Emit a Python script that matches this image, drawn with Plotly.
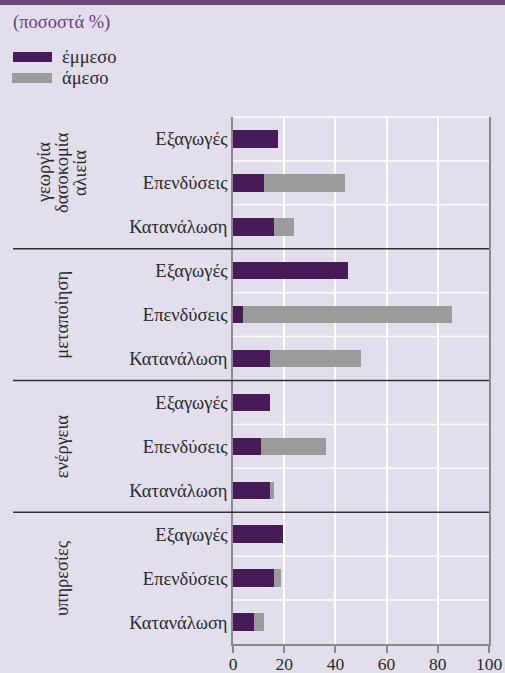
import plotly.graph_objects as go

# ---- data -------------------------------------------------------------
sectors = [["γεωργία", "δασοκομία", "αλιεία"], ["μεταποίηση"], ["ενέργεια"], ["υπηρεσίες"]]
measures = ["Εξαγωγές", "Επενδύσεις", "Κατανάλωση"]

# percentage per sector, in the order of `measures`
indirect = [
    [17.5, 12.0, 16.0],   # γεωργία / δασοκομία / αλιεία
    [45.0, 4.0, 14.3],    # μεταποίηση
    [14.6, 11.0, 14.3],   # ενέργεια
    [19.5, 16.0, 8.3],    # υπηρεσίες
]
direct = [
    [0.0, 31.7, 8.0],
    [0.0, 81.4, 35.7],
    [0.0, 25.2, 1.7],
    [0.0, 2.7, 3.9],
]
x_ticks = [0, 20, 40, 60, 80, 100]

# ---- styling ----------------------------------------------------------
W, H = 505, 673
M_L, M_R, M_T, M_B = 233, 16, 117, 29
BG = "#e2deec"
DARK = "#461b57"
GREY = "#9b9b9b"
BAND = "#684878"
TITLE_C = "#6a3f86"
TEXT_C = "#2a2a2a"
SERIF = "Liberation Serif"
TXT = 18.5      # Greek labels
NUM = 17.5      # axis numbers

PW = W - M_L - M_R
PH = H - M_T - M_B


def px_x(p):
    """pixel column -> paper x"""
    return (p - M_L) / PW


def px_y(p):
    """pixel row -> paper y"""
    return 1 - (p - M_T) / PH


# flatten into one row per bar
rows_y, rows_ind, rows_dir, tick_text = [], [], [], []
n = 0
for s in range(len(sectors)):
    for m in range(len(measures)):
        rows_y.append(n)
        rows_ind.append(indirect[s][m])
        rows_dir.append(direct[s][m])
        tick_text.append(measures[m])
        n += 1

fig = go.Figure()
fig.add_trace(go.Bar(
    name="έμμεσο", y=rows_y, x=rows_ind, orientation="h",
    marker=dict(color=DARK, line=dict(width=0)), width=0.4,
))
fig.add_trace(go.Bar(
    name="άμεσο", y=rows_y, x=rows_dir, orientation="h",
    marker=dict(color=GREY, line=dict(width=0)), width=0.4,
))

shapes = []
# row separators: white inside a sector, dark between sectors
for k in range(n - 1):
    b = k + 0.5
    if (k + 1) % len(measures) == 0:
        shapes.append(dict(type="line", xref="paper", yref="y",
                           x0=px_x(13), x1=1, y0=b, y1=b,
                           line=dict(color="#303030", width=1.5), layer="above"))
    else:
        shapes.append(dict(type="line", xref="paper", yref="y",
                           x0=0, x1=1, y0=b, y1=b,
                           line=dict(color="white", width=1.5), layer="below"))
# top edge of the plot
shapes.append(dict(type="line", xref="paper", yref="paper", x0=0, x1=1, y0=1, y1=1,
                   line=dict(color="white", width=1.5), layer="below"))
# band across the top of the page
shapes.append(dict(type="rect", xref="paper", yref="paper",
                   x0=px_x(-2), x1=px_x(W + 2), y0=px_y(5), y1=px_y(-2),
                   fillcolor=BAND, line=dict(width=0)))
# legend swatches
shapes.append(dict(type="rect", xref="paper", yref="paper",
                   x0=px_x(13), x1=px_x(52), y0=px_y(62), y1=px_y(52),
                   fillcolor=DARK, line=dict(width=0)))
shapes.append(dict(type="rect", xref="paper", yref="paper",
                   x0=px_x(12), x1=px_x(52), y0=px_y(83), y1=px_y(73),
                   fillcolor=GREY, line=dict(width=0)))

annotations = [
    dict(text="(ποσοστά %)", xref="paper", yref="paper", x=px_x(11), y=px_y(22),
         xanchor="left", yanchor="middle", showarrow=False,
         font=dict(family=SERIF, size=TXT, color=TITLE_C)),
    dict(text="έμμεσο", xref="paper", yref="paper", x=px_x(60), y=px_y(57),
         xanchor="left", yanchor="middle", showarrow=False,
         font=dict(family=SERIF, size=TXT, color=TEXT_C)),
    dict(text="άμεσο", xref="paper", yref="paper", x=px_x(60), y=px_y(78),
         xanchor="left", yanchor="middle", showarrow=False,
         font=dict(family=SERIF, size=TXT, color=TEXT_C)),
]
# rotated sector names, one annotation per text line
for s, lines in enumerate(sectors):
    centre = s * len(measures) + (len(measures) - 1) / 2
    for i, line in enumerate(lines):
        off = (i - (len(lines) - 1) / 2) * 18
        annotations.append(dict(
            text=line, xref="paper", yref="y", x=px_x(62 + off), y=centre,
            xanchor="center", yanchor="middle", textangle=-90, showarrow=False,
            yshift=10 if len(lines) > 1 else 0,
            font=dict(family=SERIF, size=TXT, color=TEXT_C),
        ))

fig.update_layout(
    width=W, height=H,
    margin=dict(l=M_L, r=M_R, t=M_T, b=M_B, pad=0, autoexpand=False),
    paper_bgcolor=BG, plot_bgcolor=BG,
    barmode="stack",
    showlegend=False,
    shapes=shapes, annotations=annotations,
    font=dict(family=SERIF, size=TXT, color=TEXT_C),
)
fig.update_xaxes(
    range=[0, 100], tickvals=x_ticks, ticktext=[str(v) for v in x_ticks],
    showgrid=True, gridcolor="white", gridwidth=1.5,
    showline=True, linecolor="#8a8a8a", linewidth=1.5,
    ticks="outside", ticklen=7, tickcolor="#8a8a8a", tickwidth=1.5,
    ticklabelstandoff=-4,
    zeroline=False, fixedrange=True, automargin=False,
    tickfont=dict(family=SERIF, size=NUM, color=TEXT_C),
)
fig.update_yaxes(
    range=[n - 0.5, -0.5], tickvals=rows_y, ticktext=tick_text,
    showgrid=False, zeroline=False,
    showline=True, mirror=True, linecolor="#8a8a8a", linewidth=1.5,
    ticks="", ticklabelstandoff=0, fixedrange=True, automargin=False,
    tickfont=dict(family=SERIF, size=TXT, color=TEXT_C),
)

fig.write_html("out.html")
